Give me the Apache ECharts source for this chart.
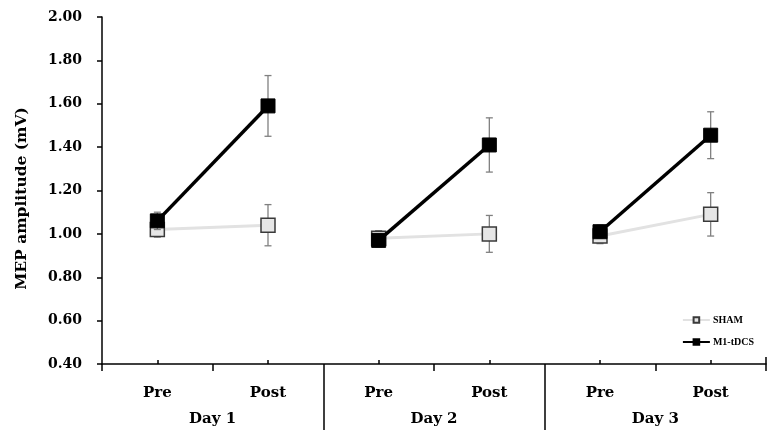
<!DOCTYPE html>
<html>
<head>
<meta charset="utf-8">
<script src="https://cdn.jsdelivr.net/npm/echarts@6/dist/echarts.min.js"></script>
<style>html,body{margin:0;padding:0;background:#fff}#chart{width:783px;height:446px}</style>
</head>
<body>
<div id="chart"></div>
<script>
const categories = ['Pre', 'Post', 'Pre', 'Post', 'Pre', 'Post'];
const days = ['Day 1', 'Day 2', 'Day 3'];
const dayBounds = ['', '', '', ''];
const shamMean = [1.02, 1.04, 0.98, 1.00, 0.99, 1.09];
const shamErr = [0.035, 0.095, 0.035, 0.085, 0.035, 0.10];
const tdcsMean = [1.06, 1.59, 0.97, 1.41, 1.01, 1.455];
const tdcsErr = [0.04, 0.14, 0.03, 0.125, 0.03, 0.108];
const yMin = 0.4, yMax = 2.0, yStep = 0.2;

const FONT = 'DejaVu Serif';
const chart = echarts.init(document.getElementById('chart'));

function dayData(arr, d) {
  return arr.map((v, i) => (Math.floor(i / 2) === d ? v : '-'));
}
function errData(mean, err) {
  return mean.map((m, i) => [i, m, err[i]]);
}
function errRender(params, api) {
  const x = api.value(0), m = api.value(1), e = api.value(2);
  const top = api.coord([x, m + e]);
  const bot = api.coord([x, m - e]);
  const hw = 3.5;
  const style = { stroke: '#808080', lineWidth: 1.3 };
  return {
    type: 'group',
    children: [
      { type: 'line', shape: { x1: top[0], y1: top[1], x2: bot[0], y2: bot[1] }, style },
      { type: 'line', shape: { x1: top[0] - hw, y1: top[1], x2: top[0] + hw, y2: top[1] }, style },
      { type: 'line', shape: { x1: bot[0] - hw, y1: bot[1], x2: bot[0] + hw, y2: bot[1] }, style }
    ]
  };
}

const shamStyle = {
  type: 'line', name: 'SHAM', symbol: 'rect', symbolSize: 14,
  itemStyle: { color: '#e6e6e6', borderColor: '#3a3a3a', borderWidth: 1.5 },
  lineStyle: { color: '#e2e2e2', width: 3 },
  connectNulls: false, z: 3
};
const tdcsStyle = {
  type: 'line', name: 'M1-tDCS', symbol: 'rect', symbolSize: 14,
  itemStyle: { color: '#000', borderColor: '#000', borderWidth: 1 },
  lineStyle: { color: '#000', width: 3.5 },
  connectNulls: false, z: 5
};

const series = [];
for (let d = 0; d < days.length; d++) {
  series.push(Object.assign({}, shamStyle, { data: dayData(shamMean, d) }));
}
for (let d = 0; d < days.length; d++) {
  series.push(Object.assign({}, tdcsStyle, { data: dayData(tdcsMean, d) }));
}
series.push({ type: 'custom', name: 'SHAM error', renderItem: errRender, data: errData(shamMean, shamErr), z: 2, silent: true });
series.push({ type: 'custom', name: 'M1-tDCS error', renderItem: errRender, data: errData(tdcsMean, tdcsErr), z: 4, silent: true });

const axisLineStyle = { color: '#000', width: 1.5 };

chart.setOption({
  animation: false,
  grid: { left: 102, right: 17, top: 17, bottom: 82, containLabel: false },
  legend: {
    orient: 'vertical', right: 24, top: 310,
    itemWidth: 27, itemHeight: 7, itemGap: 12,
    textStyle: { fontFamily: 'Liberation Serif', fontWeight: 'bold', fontSize: 10, color: '#000', padding: [0, 0, 0, -2] },
    data: ['SHAM', 'M1-tDCS']
  },
  xAxis: [
    {
      type: 'category', data: categories, position: 'bottom', boundaryGap: true,
      axisLine: { show: true, lineStyle: axisLineStyle },
      axisTick: { show: true, alignWithLabel: true, inside: true, length: 4, lineStyle: axisLineStyle },
      axisLabel: { margin: 22, fontFamily: FONT, fontWeight: 'bold', fontSize: 15, color: '#000' }
    },
    {
      type: 'category', data: categories, position: 'bottom', boundaryGap: true,
      axisLine: { show: false },
      axisTick: { show: true, length: 7, lineStyle: axisLineStyle },
      axisLabel: { show: false }
    },
    {
      type: 'category', data: dayBounds, position: 'bottom', boundaryGap: false,
      axisLine: { show: false },
      axisTick: { show: true, length: 66, interval: (i) => i === 1 || i === 2, lineStyle: axisLineStyle },
      axisLabel: { show: false }
    },
    {
      type: 'category', data: days, position: 'bottom', boundaryGap: true,
      axisLine: { show: false },
      axisTick: { show: false },
      axisLabel: { margin: 48, fontFamily: FONT, fontWeight: 'bold', fontSize: 15, color: '#000' }
    },
    {
      type: 'category', data: dayBounds, position: 'bottom', boundaryGap: false,
      axisLine: { show: false },
      axisTick: { show: true, inside: true, length: 7, interval: (i) => i === 3, lineStyle: axisLineStyle },
      axisLabel: { show: false }
    }
  ],
  yAxis: {
    type: 'value', min: yMin, max: yMax, interval: yStep,
    name: 'MEP amplitude (mV)', nameLocation: 'middle', nameGap: 72,
    nameTextStyle: { fontFamily: FONT, fontWeight: 'bold', fontSize: 15.5, color: '#000', padding: [0, 16, 0, 0] },
    axisLine: { show: true, lineStyle: axisLineStyle },
    axisTick: { show: true, length: 5, lineStyle: axisLineStyle },
    splitLine: { show: false },
    axisLabel: { margin: 20, fontFamily: FONT, fontWeight: 'bold', fontSize: 14, color: '#000', formatter: (v) => v.toFixed(2) }
  },
  series
});
</script>
</body>
</html>
